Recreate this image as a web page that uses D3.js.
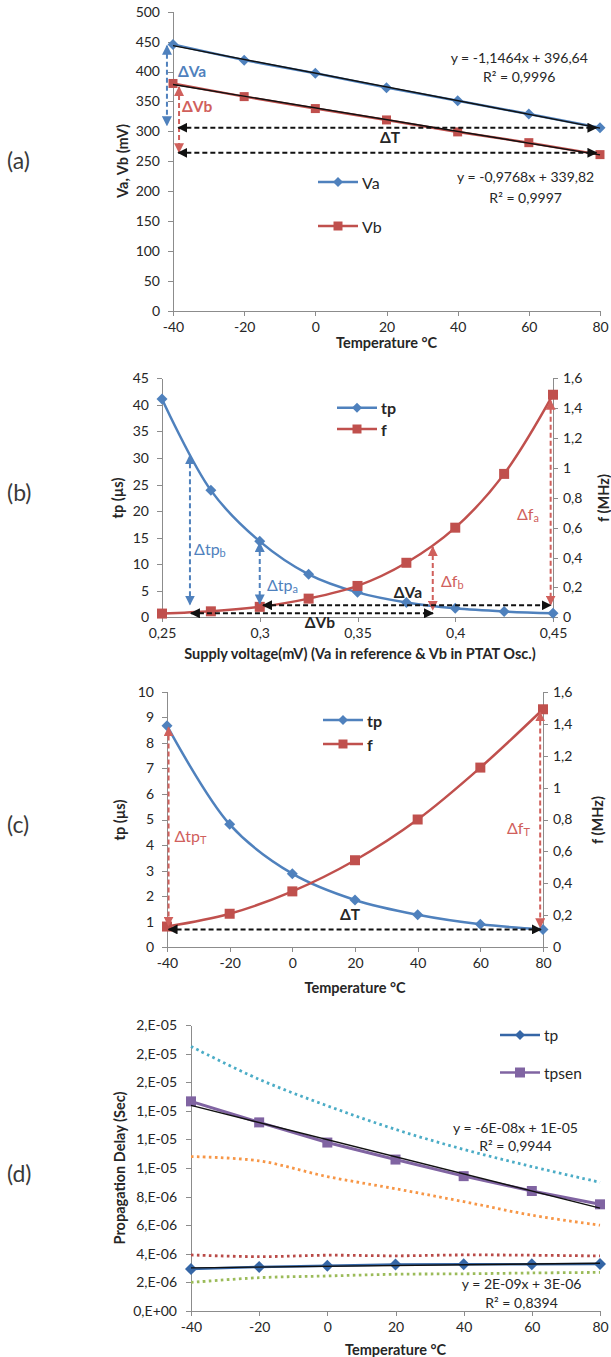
<!DOCTYPE html>
<html lang="en">
<head>
<meta charset="UTF-8">
<title>PTAT oscillator charts</title>
<style>
  body { margin: 0; background: #fff; }
  svg text { font-family: Lato, "Open Sans", sans-serif; fill: #262626; }
  .axis path, .axis line { stroke: #8c8c8c; shape-rendering: crispEdges; }
  .axis text { font-size: 14px; fill: #262626; font-family: Lato, sans-serif; }
  .title { font-weight: bold; font-size: 14.5px; }
  .tag { font-size: 23px; fill: #3a3a3a; }
</style>
</head>
<body>
<svg id="chart" width="611" height="1357"></svg>
<script src="https://d3js.org/d3.v7.min.js"></script>
<script>
// ---- data ----
const temps = [-40, -20, 0, 20, 40, 60, 80];

// (a) Va / Vb versus temperature (mV)
const vaMv = [445, 419, 397, 373, 351, 329, 306];
const vbMv = [380, 358, 338, 319, 299, 281, 261];
const mvTicks = [0, 50, 100, 150, 200, 250, 300, 350, 400, 450, 500];

// (b) tp and f versus supply voltage
const supply = [0.25, 0.275, 0.3, 0.325, 0.35, 0.375, 0.4, 0.425, 0.45];
const tpSupply = [41.1, 23.9, 14.3, 8.1, 4.7, 2.8, 1.7, 1.1, 0.75];
const fSupply = [0.025, 0.04, 0.07, 0.125, 0.21, 0.365, 0.6, 0.96, 1.49];
const supplyTicks = [0.25, 0.3, 0.35, 0.4, 0.45];
const tpSupplyTicks = [0, 5, 10, 15, 20, 25, 30, 35, 40, 45];
const fTicks = [0, 0.2, 0.4, 0.6, 0.8, 1, 1.2, 1.4, 1.6];

// (c) tp and f versus temperature
const tpTemp = [8.67, 4.81, 2.88, 1.85, 1.27, 0.9, 0.7];
const fTemp = [0.13, 0.21, 0.35, 0.545, 0.8, 1.125, 1.49];
const tpTempTicks = [0, 1, 2, 3, 4, 5, 6, 7, 8, 9, 10];

// (d) propagation delay (s)
const tpDelay = [2.93e-6, 3.08e-6, 3.17e-6, 3.25e-6, 3.27e-6, 3.27e-6, 3.28e-6];
const tpsenDelay = [1.466e-5, 1.319e-5, 1.178e-5, 1.059e-5, 9.43e-6, 8.39e-6, 7.46e-6];
const cyanDots = [1.85e-5, 1.62e-5, 1.435e-5, 1.27e-5, 1.13e-5, 1.01e-5, 9.0e-6];
const orangeDots = [1.08e-5, 1.05e-5, 9.4e-6, 8.55e-6, 7.65e-6, 6.7e-6, 6.0e-6];
const redDots = [3.92e-6, 3.8e-6, 3.9e-6, 3.86e-6, 3.92e-6, 3.9e-6, 3.85e-6];
const greenDots = [2.0e-6, 2.33e-6, 2.45e-6, 2.57e-6, 2.6e-6, 2.66e-6, 2.7e-6];
const delayTicks = [0, 2e-6, 4e-6, 6e-6, 8e-6, 1e-5, 1.2e-5, 1.4e-5, 1.6e-5, 1.8e-5, 2e-5];

const BLUE = "#4f81bd", RED = "#c0504d", PURPLE = "#8064a2", DBLUE = "#3566a6", PINK = "#d0605c";

// ---- helpers ----
const svg = d3.select("#chart");
const defs = svg.append("defs");

function head(id, color) {
  defs.append("marker").attr("id", id)
    .attr("viewBox", "0 0 10 10").attr("refX", 9).attr("refY", 5)
    .attr("markerWidth", 10).attr("markerHeight", 10)
    .attr("markerUnits", "userSpaceOnUse").attr("orient", "auto-start-reverse")
    .append("path").attr("d", "M0,0L10,5L0,10z").attr("fill", color);
}
head("hk", "#111"); head("hb", BLUE); head("hr", PINK);

const comma = d => String(d).replace(".", ",");
function sciFmt(v) {
  if (v === 0) return "0,E+00";
  let e = Math.floor(Math.log10(v) + 1e-9), m = Math.round(v / Math.pow(10, e));
  if (m === 10) { m = 1; e++; }
  return m + ",E" + (e < 0 ? "-" : "+") + String(Math.abs(e)).padStart(2, "0");
}

function fit(xs, ys) {
  const mx = d3.mean(xs), my = d3.mean(ys);
  const b = d3.sum(xs, (x, i) => (x - mx) * (ys[i] - my)) / d3.sum(xs, x => (x - mx) ** 2);
  return [b, my - b * mx];
}

function shape(kind, s) {
  if (kind === "diamond") return `M0,${-s}L${s},0L0,${s}L${-s},0Z`;
  return `M${-s},${-s}H${s}V${s}H${-s}Z`;
}

function series(g, x, y, xs, ys, color, kind, size, curve, width) {
  const pts = xs.map((d, i) => [d, ys[i]]);
  g.append("path").datum(pts)
    .attr("d", d3.line().x(d => x(d[0])).y(d => y(d[1])).curve(curve || d3.curveLinear))
    .attr("fill", "none").attr("stroke", color).attr("stroke-width", width || 2.5);
  g.selectAll(null).data(pts).join("path")
    .attr("transform", d => `translate(${x(d[0])},${y(d[1])})`)
    .attr("d", shape(kind, size)).attr("fill", color);
}

function dotted(g, x, y, xs, ys, color) {
  g.append("path").datum(xs.map((d, i) => [d, ys[i]]))
    .attr("d", d3.line().x(d => x(d[0])).y(d => y(d[1])).curve(d3.curveCatmullRom))
    .attr("fill", "none").attr("stroke", color).attr("stroke-width", 2.8)
    .attr("stroke-dasharray", "2.6,3.4");
}

function trend(g, x, y, xs, ys) {
  const [b, a] = fit(xs, ys);
  const ends = d3.extent(xs);
  g.append("line")
    .attr("x1", x(ends[0])).attr("y1", y(a + b * ends[0]))
    .attr("x2", x(ends[1])).attr("y2", y(a + b * ends[1]))
    .attr("stroke", "#111").attr("stroke-width", 1.4);
}

function arrow(g, x1, y1, x2, y2, color, id) {
  g.append("line").attr("x1", x1).attr("y1", y1).attr("x2", x2).attr("y2", y2)
    .attr("stroke", color).attr("stroke-width", 2).attr("stroke-dasharray", "5,3")
    .attr("marker-start", `url(#${id})`).attr("marker-end", `url(#${id})`);
}

function label(g, x, y, txt, opts) {
  const t = g.append("text").attr("x", x).attr("y", y).attr("dominant-baseline", "central")
    .attr("text-anchor", opts.anchor || "start")
    .style("font-size", (opts.size || 14) + "px").style("font-weight", opts.bold ? "bold" : "normal")
    .style("fill", opts.color || "#262626");
  if (opts.sub) {
    t.append("tspan").text(txt);
    t.append("tspan").text(opts.sub).attr("dy", 4).style("font-size", "11px");
  } else t.text(txt);
  return t;
}

function legend(g, x, y, color, kind, size, txt, opts) {
  g.append("line").attr("x1", x).attr("x2", x + 40).attr("y1", y).attr("y2", y)
    .attr("stroke", color).attr("stroke-width", 2.5);
  g.append("path").attr("transform", `translate(${x + 20},${y})`).attr("d", shape(kind, size)).attr("fill", color);
  label(g, x + 44, y, txt, opts);
}

function yTitle(g, x, y, txt) {
  g.append("text").attr("class", "title").attr("text-anchor", "middle")
    .attr("dominant-baseline", "central")
    .attr("transform", `translate(${x},${y}) rotate(-90)`).text(txt);
}
function xTitle(g, x, y, txt) {
  g.append("text").attr("class", "title").attr("text-anchor", "middle")
    .attr("dominant-baseline", "central").attr("x", x).attr("y", y).text(txt);
}
function tag(g, x, y, txt) {
  g.append("text").attr("class", "tag").attr("x", x).attr("y", y)
    .attr("dominant-baseline", "central").text(txt);
}

function axes(g, x, y, xTicks, yTicks, xf, yf, pad) {
  g.append("g").attr("class", "axis").attr("transform", `translate(0,${y.range()[0]})`)
    .call(d3.axisBottom(x).tickValues(xTicks).tickFormat(xf).tickSize(5).tickSizeOuter(0).tickPadding(6));
  g.append("g").attr("class", "axis").attr("transform", `translate(${x.range()[0]},0)`)
    .call(d3.axisLeft(y).tickValues(yTicks).tickFormat(yf).tickSize(5).tickSizeOuter(0).tickPadding(pad || 8));
}

// ---- (a) ----
{
  const g = svg.append("g");
  const x = d3.scaleLinear().domain([-40, 80]).range([173, 600]);
  const y = d3.scaleLinear().domain([0, 500]).range([310.7, 11.7]);
  axes(g, x, y, temps, mvTicks, d => d, d => d);
  series(g, x, y, temps, vaMv, BLUE, "diamond", 5.5);
  series(g, x, y, temps, vbMv, RED, "square", 4.5);
  trend(g, x, y, temps, vaMv);
  trend(g, x, y, temps, vbMv);

  arrow(g, x(-41.7), y(443), x(-41.7), y(310), BLUE, "hb");
  arrow(g, x(-38.3), y(374), x(-38.3), y(265), PINK, "hr");
  arrow(g, x(-38.5), y(306), x(79), y(306), "#111", "hk");
  arrow(g, x(-38.5), y(264), x(79), y(264), "#111", "hk");
  label(g, x(-38.6), y(401), "ΔVa", { bold: true, size: 15.5, color: BLUE });
  label(g, x(-37.5), y(342), "ΔVb", { bold: true, size: 15.5, color: PINK });
  label(g, x(21), y(290), "ΔT", { bold: true, size: 15.5, anchor: "middle" });

  label(g, x(57.3), y(424), "y = -1,1464x + 396,64", { anchor: "middle", size: 14 });
  label(g, x(57.3), y(391), "R² = 0,9996", { anchor: "middle", size: 14 });
  label(g, x(59.1), y(224), "y = -0,9768x + 339,82", { anchor: "middle", size: 14 });
  label(g, x(59.1), y(190), "R² = 0,9997", { anchor: "middle", size: 14 });

  legend(g, 318, 182, BLUE, "diamond", 5, "Va", { size: 16 });
  legend(g, 318, 226, RED, "square", 4.5, "Vb", { size: 16 });

  yTitle(g, 122, 161, "Va, Vb (mV)");
  xTitle(g, 386.5, 342, "Temperature °C");
  tag(g, 7, 160, "(a)");
}

// ---- (b) ----
{
  const g = svg.append("g");
  const x = d3.scaleLinear().domain([0.25, 0.45]).range([162, 553]);
  const y = d3.scaleLinear().domain([0, 45]).range([617.3, 378.3]);
  const y2 = d3.scaleLinear().domain([0, 1.6]).range([617.3, 378.3]);
  axes(g, x, y, supplyTicks, tpSupplyTicks, comma, d => d);
  g.append("g").attr("class", "axis").attr("transform", "translate(553,0)")
    .call(d3.axisRight(y2).tickValues(fTicks).tickFormat(comma).tickSize(5).tickSizeOuter(0).tickPadding(5));
  series(g, x, y, supply, tpSupply, BLUE, "diamond", 5.5, d3.curveCatmullRom);
  series(g, x, y2, supply, fSupply, RED, "square", 5, d3.curveCatmullRom);

  arrow(g, x(0.2643), y(30.5), x(0.2643), y(2.4), BLUE, "hb");
  arrow(g, x(0.3), y(14.0), x(0.3), y(2.6), BLUE, "hb");
  arrow(g, x(0.3885), y2(0.47), x(0.3885), y2(0.05), PINK, "hr");
  arrow(g, x(0.4488), y2(1.45), x(0.4488), y2(0.085), PINK, "hr");
  arrow(g, x(0.3017), y(2.26), x(0.4488), y(2.26), "#111", "hk");
  arrow(g, x(0.2648), y(0.75), x(0.3886), y(0.75), "#111", "hk");

  label(g, x(0.2664), y(13), "Δtp", { size: 16, color: BLUE, sub: "b" });
  label(g, x(0.3037), y(6.3), "Δtp", { size: 16, color: BLUE, sub: "a" });
  label(g, x(0.3927), y2(0.25), "Δf", { size: 16, color: PINK, sub: "b" });
  label(g, x(0.4316), y2(0.7), "Δf", { size: 16, color: PINK, sub: "a" });
  label(g, x(0.3758), y(4.8), "ΔVa", { size: 15.5, bold: true, anchor: "middle" });
  label(g, x(0.3308), y(-0.8), "ΔVb", { size: 15.5, bold: true, anchor: "middle" });

  legend(g, 337, 407.7, BLUE, "diamond", 5, "tp", { size: 16, bold: true });
  legend(g, 337, 429, RED, "square", 4.5, "f", { size: 16, bold: true });

  yTitle(g, 117, 498, "tp (µs)");
  yTitle(g, 603, 498, "f (MHz)");
  xTitle(g, 360, 653, "Supply voltage(mV) (Va in reference & Vb in PTAT Osc.)");
  tag(g, 7, 492, "(b)");
}

// ---- (c) ----
{
  const g = svg.append("g");
  const x = d3.scaleLinear().domain([-40, 80]).range([167, 543]);
  const y = d3.scaleLinear().domain([0, 10]).range([947.3, 691.7]);
  const y2 = d3.scaleLinear().domain([0, 1.6]).range([947.3, 691.7]);
  axes(g, x, y, temps, tpTempTicks, d => d, d => d);
  g.append("g").attr("class", "axis").attr("transform", "translate(543,0)")
    .call(d3.axisRight(y2).tickValues(fTicks).tickFormat(comma).tickSize(5).tickSizeOuter(0).tickPadding(5));
  series(g, x, y, temps, tpTemp, BLUE, "diamond", 5.5, d3.curveCatmullRom);
  series(g, x, y2, temps, fTemp, RED, "square", 5, d3.curveCatmullRom);

  arrow(g, x(-39.5), y(8.6), x(-39.5), y(0.85), PINK, "hr");
  arrow(g, x(79.1), y2(1.47), x(79.1), y2(0.125), PINK, "hr");
  arrow(g, x(-39.5), y(0.7), x(79.3), y(0.7), "#111", "hk");

  label(g, x(-37.6), y(4.4), "Δtp", { size: 16, color: PINK, sub: "T" });
  label(g, x(68.5), y(4.7), "Δf", { size: 16, color: PINK, sub: "T" });
  label(g, x(18.4), y(1.3), "ΔT", { size: 15.5, bold: true, anchor: "middle" });

  legend(g, 323, 720, BLUE, "diamond", 5, "tp", { size: 16, bold: true });
  legend(g, 323, 744, RED, "square", 4.5, "f", { size: 16, bold: true });

  yTitle(g, 119, 820, "tp (µs)");
  yTitle(g, 597, 820, "f (MHz)");
  xTitle(g, 355, 987, "Temperature °C");
  tag(g, 7, 824, "(c)");
}

// ---- (d) ----
{
  const g = svg.append("g");
  const x = d3.scaleLinear().domain([-40, 80]).range([191, 600]);
  const y = d3.scaleLinear().domain([0, 2e-5]).range([1311, 1025]);
  axes(g, x, y, temps, delayTicks, d => d, sciFmt, 9);
  dotted(g, x, y, temps, cyanDots, "#4bacc6");
  dotted(g, x, y, temps, orangeDots, "#f79646");
  dotted(g, x, y, temps, redDots, "#b94a47");
  dotted(g, x, y, temps, greenDots, "#9bbb59");
  series(g, x, y, temps, tpDelay, DBLUE, "diamond", 6, null, 2.5);
  series(g, x, y, temps, tpsenDelay, PURPLE, "square", 5, null, 3);
  trend(g, x, y, temps, tpsenDelay);
  trend(g, x, y, temps, tpDelay);

  label(g, x(55.2), y(1.282e-5), "y = -6E-08x + 1E-05", { anchor: "middle", size: 14 });
  label(g, x(55.2), y(1.154e-5), "R² = 0,9944", { anchor: "middle", size: 14 });
  label(g, x(57), y(1.89e-6), "y = 2E-09x + 3E-06", { anchor: "middle", size: 14 });
  label(g, x(57), y(5.6e-7), "R² = 0,8394", { anchor: "middle", size: 14 });

  legend(g, 500, 1035, DBLUE, "diamond", 5, "tp", { size: 15.5 });
  legend(g, 500, 1072.5, PURPLE, "square", 5, "tpsen", { size: 15.5 });

  yTitle(g, 119, 1168, "Propagation Delay (Sec)");
  xTitle(g, 395.5, 1349, "Temperature °C");
  tag(g, 7, 1173, "(d)");
}
</script>
</body>
</html>
